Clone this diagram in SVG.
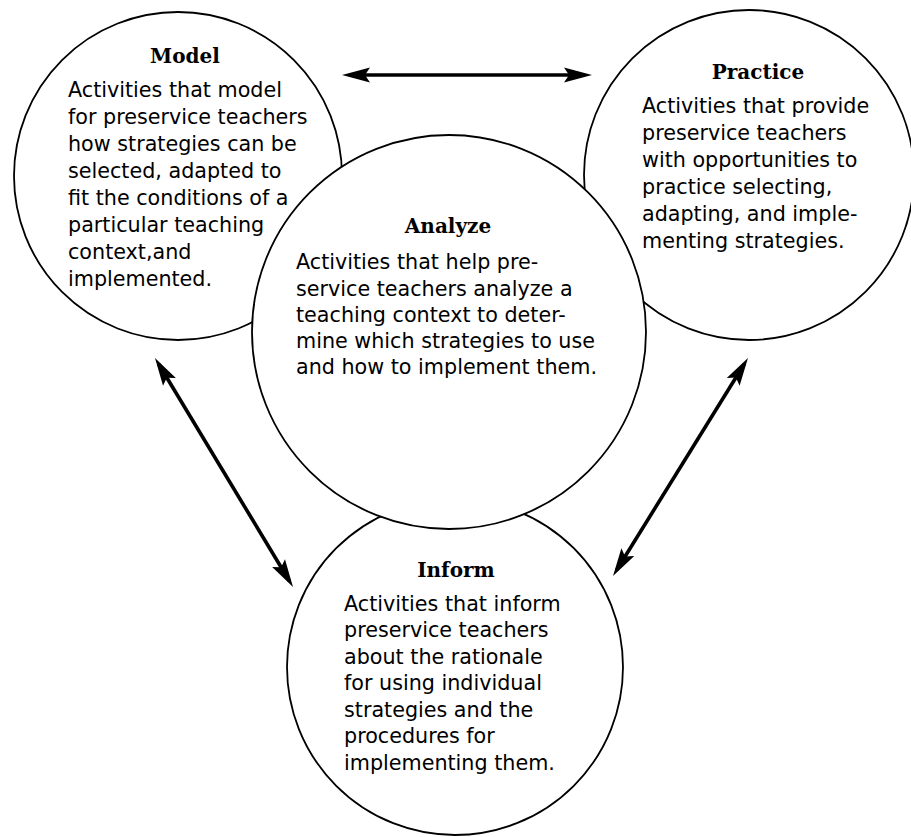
<svg xmlns="http://www.w3.org/2000/svg" width="911" height="837" viewBox="0 0 911 837">
<style>
.c{fill:#fff;stroke:#000;stroke-width:1.8}
.t{font-family:"DejaVu Serif","Liberation Serif",serif;font-weight:bold;font-size:20px;fill:#000;text-anchor:middle}
.b{font-family:"DejaVu Sans","Liberation Sans",sans-serif;font-size:20.7px;fill:#000}
.a{stroke:#000;stroke-width:3.6;fill:none;marker-start:url(#ah);marker-end:url(#ah)}
</style>
<defs>
<marker id="ah" markerUnits="userSpaceOnUse" markerWidth="28" markerHeight="16" viewBox="0 0 28 16" refX="21" refY="8" orient="auto-start-reverse">
<path d="M28,8 L0,0.5 L5,8 L0,15.5 Z" fill="#000"/>
</marker>
</defs>
<rect width="911" height="837" fill="#fff"/>
<g id="model">
<circle class="c" cx="178" cy="176" r="164"/>
<text class="t" x="185" y="63">Model</text>
<text class="b" x="68" y="97">Activities that model</text>
<text class="b" x="68" y="124">for preservice teachers</text>
<text class="b" x="68" y="151">how strategies can be</text>
<text class="b" x="68" y="178">selected, adapted to</text>
<text class="b" x="68" y="205">fit the conditions of a</text>
<text class="b" x="68" y="232">particular teaching</text>
<text class="b" x="68" y="259">context,and</text>
<text class="b" x="68" y="286">implemented.</text>
</g>
<g id="practice">
<circle class="c" cx="749" cy="175" r="165"/>
<text class="t" x="758" y="79">Practice</text>
<text class="b" x="642" y="113">Activities that provide</text>
<text class="b" x="642" y="140">preservice teachers</text>
<text class="b" x="642" y="167">with opportunities to</text>
<text class="b" x="642" y="194">practice selecting,</text>
<text class="b" x="642" y="221">adapting, and imple-</text>
<text class="b" x="642" y="248">menting strategies.</text>
</g>
<g id="inform">
<circle class="c" cx="455" cy="667" r="168"/>
<text class="t" x="456" y="577">Inform</text>
<text class="b" x="344" y="611">Activities that inform</text>
<text class="b" x="344" y="637">preservice teachers</text>
<text class="b" x="344" y="664">about the rationale</text>
<text class="b" x="344" y="690">for using individual</text>
<text class="b" x="344" y="717">strategies and the</text>
<text class="b" x="344" y="743">procedures for</text>
<text class="b" x="344" y="770">implementing them.</text>
</g>
<g id="analyze">
<circle class="c" cx="449" cy="332" r="197"/>
<text class="t" x="448" y="233">Analyze</text>
<text class="b" x="296" y="269">Activities that help pre-</text>
<text class="b" x="296" y="296">service teachers analyze a</text>
<text class="b" x="296" y="322">teaching context to deter-</text>
<text class="b" x="296" y="348">mine which strategies to use</text>
<text class="b" x="296" y="374">and how to implement them.</text>
</g>
<g id="connectors">
<line class="a" x1="349" y1="75" x2="585" y2="75"/>
<line class="a" x1="158.6" y1="364" x2="289.4" y2="581"/>
<line class="a" x1="744.3" y1="364" x2="616.7" y2="570"/>
</g>
</svg>
